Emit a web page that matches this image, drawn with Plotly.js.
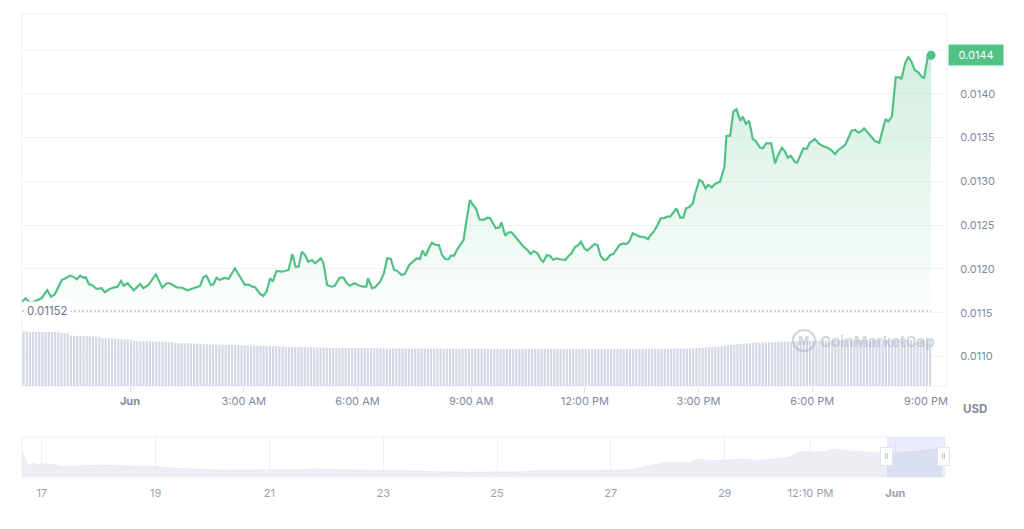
<!DOCTYPE html>
<html>
<head>
<meta charset="utf-8">
<script src="https://cdn.plot.ly/plotly-3.0.1.min.js"></script>
<style>
html,body{margin:0;padding:0;background:#fff;}
#chart{width:1024px;height:529px;}
</style>
</head>
<body>
<div id="chart"></div>
<script>
// ---- data ----
const startTime = '2023-05-31 21:09';           // first price sample
const minutes = [
0,6,13,26,31,40,46,52,63,69,
76,81,87,92,97,101,106,111,118,126,
131,139,146,151,157,161,167,177,187,192,
200,212,222,229,234,245,253,262,271,282,
287,292,299,303,308,313,321,327,337,345,
353,358,364,369,377,382,387,393,397,403,
411,416,422,428,433,438,443,448,453,459,
464,473,477,483,490,495,503,509,514,519,
526,532,540,545,548,554,559,567,573,578,
584,589,594,601,606,613,619,625,630,634,
639,644,649,655,660,665,670,675,679,684,
689,699,703,707,709,713,719,724,730,737,
741,750,756,759,765,770,775,783,794,801,
805,810,816,821,825,831,836,841,846,852,
860,865,870,875,881,885,890,895,901,906,
911,916,921,926,931,936,946,952,957,961,
967,973,978,986,991,995,1000,1006,1011,1016,
1021,1026,1029,1036,1042,1047,1051,1056,1062,1065,
1072,1077,1082,1086,1092,1097,1105,1109,1112,1115,
1121,1126,1131,1137,1141,1146,1151,1157,1161,1168,
1173,1178,1186,1192,1197,1203,1208,1212,1217,1223,
1227,1233,1237,1242,1247,1255,1262,1267,1275,1282,
1287,1292,1298,1303,1308,1313,1319,1324,1329,1333,
1339,1345,1350,1357,1361,1367,1371,1377,1383,1389,
1392,1398,1403,1408,1413,1419,1424,1428,1434,1439];
const price = [
0.011627,0.011666,0.011608,0.011654,0.011666,0.011760,0.011684,0.011711,0.011874,0.011894,
0.011924,0.011912,0.011882,0.011924,0.011901,0.011905,0.011825,0.011817,0.011772,0.011780,
0.011734,0.011772,0.011791,0.011795,0.011863,0.011809,0.011837,0.011757,0.011829,0.011780,
0.011817,0.011939,0.011787,0.011837,0.011837,0.011791,0.011787,0.011757,0.011780,0.011806,
0.011905,0.011924,0.011817,0.011825,0.011901,0.011874,0.011901,0.011886,0.012008,0.011912,
0.011817,0.011825,0.011800,0.011791,0.011715,0.011692,0.011741,0.011894,0.011855,0.011977,
0.011969,0.011977,0.011989,0.012171,0.012026,0.012026,0.012198,0.012160,0.012083,0.012103,
0.012065,0.012122,0.012072,0.011817,0.011798,0.011809,0.011901,0.011901,0.011837,0.011809,
0.011837,0.011817,0.011798,0.011798,0.011894,0.011780,0.011791,0.011855,0.011951,0.012122,
0.012114,0.011989,0.011977,0.011932,0.011943,0.012046,0.012083,0.012122,0.012114,0.012209,
0.012148,0.012236,0.012300,0.012274,0.012274,0.012160,0.012114,0.012111,0.012152,0.012152,
0.012225,0.012331,0.012522,0.012674,0.012788,0.012742,0.012685,0.012567,0.012559,0.012586,
0.012579,0.012465,0.012476,0.012533,0.012380,0.012419,0.012419,0.012350,0.012255,0.012209,
0.012171,0.012205,0.012179,0.012111,0.012083,0.012160,0.012148,0.012103,0.012122,0.012111,
0.012103,0.012148,0.012179,0.012248,0.012274,0.012312,0.012236,0.012209,0.012243,0.012282,
0.012274,0.012148,0.012103,0.012111,0.012160,0.012171,0.012274,0.012293,0.012285,0.012312,
0.012408,0.012388,0.012369,0.012362,0.012339,0.012388,0.012426,0.012502,0.012579,0.012579,
0.012597,0.012597,0.012628,0.012693,0.012586,0.012586,0.012693,0.012704,0.012750,0.012845,
0.013016,0.012997,0.012921,0.012959,0.012933,0.012970,0.012997,0.013093,0.013168,0.013518,
0.013522,0.013796,0.013823,0.013693,0.013739,0.013655,0.013693,0.013481,0.013465,0.013389,
0.013378,0.013435,0.013435,0.013207,0.013301,0.013385,0.013339,0.013271,0.013293,0.013225,
0.013214,0.013313,0.013378,0.013370,0.013442,0.013484,0.013427,0.013408,0.013385,0.013351,
0.013313,0.013359,0.013396,0.013416,0.013492,0.013579,0.013587,0.013556,0.013575,0.013606,
0.013556,0.013503,0.013461,0.013442,0.013549,0.013712,0.013682,0.013739,0.014188,0.014188,
0.014166,0.014348,0.014424,0.014367,0.014272,0.014246,0.014195,0.014184,0.014430,0.014440];
const openPrice = 0.01152;   // dotted reference line (24h open)

// volume bars, one per 5 minutes (relative units)
const volume = [
545,544,543,543,542,543,542,541,541,540,540,538,
528,527,526,
505,503,502,500,500,499,498,497,496,495,
480,478,476,475,474,470,468,466,465,464,
450,449,448,447,446,445,445,444,443,442,441,440,439,
430,429,428,428,427,426,425,424,423,
418,417,416,415,415,414,413,412,412,411,410,409,409,408,
405,404,404,403,402,401,400,399,398,397,396,395,
392,391,390,390,389,388,388,387,386,386,385,385,384,383,383,382,382,381,
381,380,380,380,379,379,379,378,378,378,378,377,377,377,377,376,376,376,376,376,
375,375,375,375,375,375,375,374,374,374,374,374,374,374,374,374,374,373,373,373,
373,373,373,373,373,373,373,373,372,372,372,372,372,372,372,372,372,372,372,372,
372,372,371,371,371,371,371,371,371,371,371,371,371,371,371,371,371,371,371,371,
371,371,371,371,371,371,371,371,371,371,371,371,371,371,372,372,372,372,372,372,
372,372,372,372,373,373,373,373,374,374,
376,378,380,382,384,386,
388,390,392,395,398,402,
406,410,413,416,
420,424,427,430,
433,434,435,436,437,438,439,440,441,442,443,444,
446,447,448,449,450,450,451,452,452,453,
455,455,456,456,457,457,457,458,458,458,458,459,459,459,459,459,460,460,460,460,
460,460,460,460,460,460,460,460,460,460,460,460,460,460,460];

// navigator (long range) series
const navDates = ['2023-05-16 15:34','2023-05-16 18:21','2023-05-16 20:27','2023-05-16 21:53','2023-05-17 00:00',
'2023-05-17 03:30','2023-05-17 09:06','2023-05-18 00:35','2023-05-18 23:03','2023-05-19 10:19',
'2023-05-19 18:45','2023-05-20 04:35','2023-05-20 22:52','2023-05-21 12:55','2023-05-21 19:57',
'2023-05-22 02:58','2023-05-22 17:03','2023-05-23 07:05','2023-05-23 21:08','2023-05-24 11:13',
'2023-05-25 06:19','2023-05-25 20:21','2023-05-26 20:16','2023-05-27 07:31','2023-05-27 11:44',
'2023-05-27 17:21','2023-05-27 22:57','2023-05-28 04:36','2023-05-28 08:50','2023-05-28 13:02',
'2023-05-28 18:39','2023-05-29 01:42','2023-05-29 08:42','2023-05-29 14:21','2023-05-29 22:47',
'2023-05-30 03:00','2023-05-30 07:13','2023-05-30 10:00','2023-05-30 12:49','2023-05-30 18:25',
'2023-05-30 22:39','2023-05-31 02:52','2023-05-31 09:54','2023-05-31 16:57','2023-05-31 23:57',
'2023-06-01 06:59','2023-06-01 15:25','2023-06-01 19:38'];
const navPrice = [0.01265,0.00550,0.00685,0.00615,0.00650,
0.00635,0.00515,0.00585,0.00515,0.00415,
0.00385,0.00335,0.00350,0.00350,0.00400,
0.00365,0.00335,0.00300,0.00250,0.00235,
0.00250,0.00315,0.00335,0.00350,0.00435,
0.00600,0.00735,0.00715,0.00685,0.00885,
0.00815,0.00850,0.00885,0.00815,0.00935,
0.00985,0.01215,0.01265,0.01235,0.01265,
0.01385,0.01315,0.01265,0.01185,0.01215,
0.01265,0.01385,0.01435];

// tick labels
const mainTickVals = ['2023-06-01 00:00','2023-06-01 03:00','2023-06-01 06:00','2023-06-01 09:00',
  '2023-06-01 12:00','2023-06-01 15:00','2023-06-01 18:00','2023-06-01 21:00'];
const mainTickText = ['<b>Jun</b>','3:00 AM','6:00 AM','9:00 AM','12:00 PM','3:00 PM','6:00 PM','9:00 PM'];
const navTickVals = ['2023-05-17','2023-05-19','2023-05-21','2023-05-23','2023-05-25','2023-05-27',
  '2023-05-29','2023-05-30 12:10','2023-06-01'];
const navTickText = ['17','19','21','23','25','27','29','12:10 PM','<b>Jun</b>'];

// ---- helpers ----
function addMinutes(base, m){
  const p = base.split(/[- :]/).map(Number);
  const t = Date.UTC(p[0], p[1]-1, p[2], p[3], p[4]) + Math.round(m*60000);
  return new Date(t).toISOString().slice(0,19).replace('T',' ');
}
const times = minutes.map(m => addMinutes(startTime, m));
const volTimes = volume.map((v,i) => addMinutes(startTime, i*5 + 2.5));
const last = price.length - 1;

const GREEN = '#52c186';
const GREY = '#808a9d';
const FONT = 'Inter, "Noto Sans", Arial, sans-serif';

const traces = [
  { // dotted open-price reference line (also the fill baseline)
    x: [times[0], times[last]], y: [openPrice, openPrice],
    type: 'scatter', mode: 'lines', xaxis: 'x', yaxis: 'y',
    line: {color: '#b4b9c6', width: 1.3, dash: '2px,2px'},
    hoverinfo: 'skip', showlegend: false
  },
  { // price line with gradient fill
    x: times, y: price, type: 'scatter', mode: 'lines', xaxis: 'x', yaxis: 'y',
    line: {color: GREEN, width: 2.2, shape: 'linear'},
    fill: 'tonexty',
    fillgradient: {type: 'vertical',
      colorscale: [[0, 'rgba(82,193,134,0.02)'], [1, 'rgba(82,193,134,0.26)']]},
    hoverinfo: 'skip', showlegend: false
  },
  { // last point marker
    x: [times[last]], y: [price[last]], type: 'scatter', mode: 'markers',
    xaxis: 'x', yaxis: 'y', marker: {color: GREEN, size: 9},
    hoverinfo: 'skip', showlegend: false
  },
  { // volume bars
    x: volTimes, y: volume, type: 'bar', xaxis: 'x', yaxis: 'y2',
    marker: {color: '#d3d7e6', line: {width: 0}},
    hoverinfo: 'skip', showlegend: false
  },
  { // navigator area
    x: navDates, y: navPrice, type: 'scatter', mode: 'lines', xaxis: 'x2', yaxis: 'y3',
    line: {color: '#e9ebf2', width: 1}, fill: 'tozeroy', fillcolor: '#eceef4',
    hoverinfo: 'skip', showlegend: false
  }
];

const mainBottom = 0.1965;
const navTop = 0.0864;
const selStart = '2023-05-31 20:27';
const navEnd = '2023-06-01 20:47';

const layout = {
  width: 1024, height: 529,
  margin: {l: 22, r: 77, t: 14, b: 52},
  paper_bgcolor: '#ffffff', plot_bgcolor: '#ffffff',
  font: {family: FONT, size: 11, color: GREY},
  bargap: 0.33,
  showlegend: false,
  xaxis: {
    type: 'date', domain: [0, 1], anchor: 'y',
    range: ['2023-05-31 21:09:03', '2023-06-01 21:33:14'],
    tickmode: 'array', tickvals: mainTickVals, ticktext: mainTickText,
    ticks: 'outside', ticklen: 5, tickcolor: '#dfe2ea', tickwidth: 1,
    showgrid: false, zeroline: false, showline: false,
    tickfont: {family: FONT, size: 11, color: GREY}, fixedrange: true
  },
  yaxis: {
    domain: [mainBottom, 1], anchor: 'x', side: 'right',
    range: [0.010664, 0.014911],
    tickmode: 'linear', tick0: 0.0110, dtick: 0.0005, tickformat: '.4f',
    ticks: 'outside', ticklen: 10, tickcolor: 'rgba(0,0,0,0)',
    showgrid: true, gridcolor: '#f2f3f6', gridwidth: 1,
    zeroline: false, showline: false,
    tickfont: {family: FONT, size: 11, color: GREY}, fixedrange: true
  },
  yaxis2: {
    overlaying: 'y', anchor: 'x', range: [0, 3720],
    showticklabels: false, showgrid: false, zeroline: false, fixedrange: true
  },
  xaxis2: {
    type: 'date', domain: [0, 0.9975], anchor: 'y3',
    range: ['2023-05-16 15:41', navEnd],
    tickmode: 'array', tickvals: navTickVals, ticktext: navTickText,
    ticks: 'outside', ticklen: 6, tickcolor: 'rgba(0,0,0,0)',
    showgrid: true, gridcolor: '#eff0f4', zeroline: false, showline: false,
    tickfont: {family: FONT, size: 11, color: '#9aa1b2'}, fixedrange: true
  },
  yaxis3: {
    domain: [0, navTop], anchor: 'x2', range: [0, 0.02],
    showticklabels: false, showgrid: false, zeroline: false, fixedrange: true
  },
  shapes: [
    {type: 'rect', xref: 'paper', yref: 'paper', x0: 0, x1: 1, y0: mainBottom, y1: 1,
     line: {color: '#eff0f3', width: 1}, fillcolor: 'rgba(0,0,0,0)', layer: 'below'},
    {type: 'rect', xref: 'paper', yref: 'paper', x0: 0, x1: 0.9975, y0: 0, y1: navTop,
     line: {color: '#eef0f3', width: 1}, fillcolor: 'rgba(0,0,0,0)', layer: 'below'},
    {type: 'rect', xref: 'x2', yref: 'paper', x0: selStart, x1: navEnd, y0: 0, y1: navTop,
     line: {width: 0}, fillcolor: 'rgba(110,128,225,0.14)', layer: 'above'},
    {type: 'circle', xref: 'paper', yref: 'paper', x0: 0.8335, x1: 0.8573, y0: 0.2721, y1: 0.3175,
     line: {color: 'rgba(170,176,192,0.55)', width: 2}, fillcolor: 'rgba(0,0,0,0)', layer: 'above'}
  ],
  annotations: [
    { // last price tag
      xref: 'paper', yref: 'y', x: 1, y: price[last], xanchor: 'left', yanchor: 'middle',
      xshift: 1, text: price[last].toFixed(4), showarrow: false,
      bgcolor: GREEN, borderpad: 3, width: 48, align: 'center',
      font: {family: FONT, size: 11, color: '#ffffff'}
    },
    { // open price label
      xref: 'paper', yref: 'y', x: 0, y: openPrice, xanchor: 'left', yanchor: 'middle',
      xshift: 2, text: String(openPrice), showarrow: false,
      bgcolor: '#ffffff', borderpad: 2,
      font: {family: FONT, size: 11.5, color: '#6e7689'}
    },
    { // currency
      xref: 'paper', yref: 'paper', x: 1.0303, y: 0.1469, xanchor: 'center', yanchor: 'middle',
      text: '<b>USD</b>', showarrow: false, font: {family: FONT, size: 11.5, color: GREY}
    },
    { // watermark
      xref: 'paper', yref: 'paper', x: 0.9254, y: 0.2937, xanchor: 'center', yanchor: 'middle',
      text: '<b>CoinMarketCap</b>', showarrow: false,
      font: {family: FONT, size: 15, color: 'rgba(170,176,192,0.5)'}
    },
    {
      xref: 'paper', yref: 'paper', x: 0.8454, y: 0.2948, xanchor: 'center', yanchor: 'middle',
      text: '<b>M</b>', showarrow: false,
      font: {family: FONT, size: 12, color: 'rgba(170,176,192,0.55)'}
    },
    { // navigator handles
      xref: 'x2', yref: 'paper', x: selStart, y: navTop/2, xanchor: 'center', yanchor: 'middle',
      text: 'II', showarrow: false, bgcolor: '#ffffff', bordercolor: '#e3e5ec', borderwidth: 1,
      borderpad: 2, width: 7, height: 13, font: {family: FONT, size: 7, color: '#9aa1b2'}
    },
    {
      xref: 'x2', yref: 'paper', x: '2023-06-01 20:23', y: navTop/2, xanchor: 'center', yanchor: 'middle',
      text: 'II', showarrow: false, bgcolor: '#ffffff', bordercolor: '#e3e5ec', borderwidth: 1,
      borderpad: 2, width: 7, height: 13, font: {family: FONT, size: 7, color: '#9aa1b2'}
    }
  ]
};

Plotly.newPlot('chart', traces, layout, {displayModeBar: false, staticPlot: true});
</script>
</body>
</html>
